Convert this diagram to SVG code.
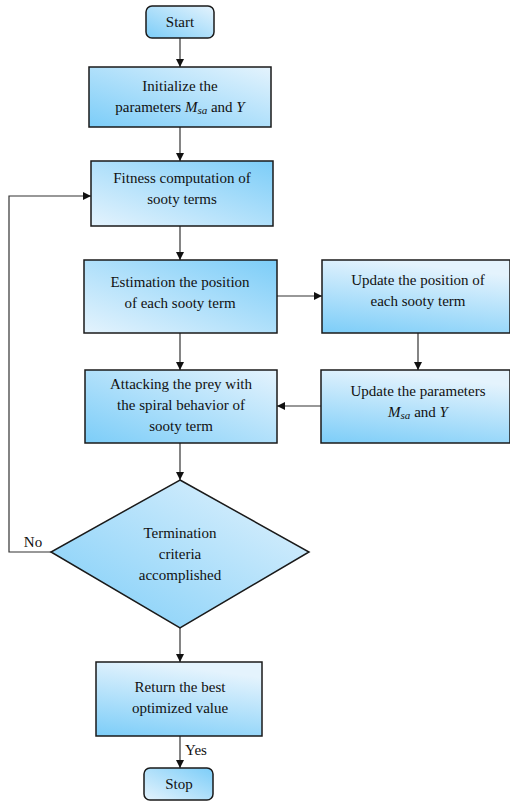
<svg xmlns="http://www.w3.org/2000/svg" width="510" height="805" viewBox="0 0 510 805">
<style>
.box{stroke:#1a1a1a;stroke-width:1.5}
.t{font-size:15px;fill:#111;text-anchor:middle}
.i{font-style:italic}
.c{stroke:#333;stroke-width:1.2;fill:none}
</style>
<defs>
<linearGradient id="gL" x1="0" y1="1" x2="1" y2="0"><stop offset="0" stop-color="#7ccdf8"/><stop offset="1" stop-color="#e4f3fd"/></linearGradient>
<linearGradient id="gR" x1="0" y1="1" x2="1" y2="0"><stop offset="0" stop-color="#e4f3fd"/><stop offset="1" stop-color="#7ccdf8"/></linearGradient>
<linearGradient id="gV" x1="0.3" y1="0" x2="0" y2="1"><stop offset="0" stop-color="#e4f3fd"/><stop offset="1" stop-color="#7ccdf8"/></linearGradient>
<marker id="ar" viewBox="0 0 10 10" refX="10" refY="5" markerWidth="8" markerHeight="8" markerUnits="userSpaceOnUse" orient="auto"><path d="M0,0 L10,5 L0,10 z" fill="#111"/></marker>
</defs>
<g font-family="'Liberation Serif', 'DejaVu Serif', serif">
<g id="connectors">
<line class="c" x1="180" y1="38" x2="180" y2="67" marker-end="url(#ar)"/>
<line class="c" x1="180" y1="127" x2="180" y2="161" marker-end="url(#ar)"/>
<line class="c" x1="180" y1="226" x2="180" y2="260" marker-end="url(#ar)"/>
<line class="c" x1="277" y1="296" x2="322" y2="296" marker-end="url(#ar)"/>
<line class="c" x1="418" y1="333" x2="418" y2="370" marker-end="url(#ar)"/>
<line class="c" x1="180" y1="333" x2="180" y2="370" marker-end="url(#ar)"/>
<line class="c" x1="321" y1="406" x2="277" y2="406" marker-end="url(#ar)"/>
<line class="c" x1="180" y1="443" x2="180" y2="480" marker-end="url(#ar)"/>
<polyline class="c" points="51,552 9,552 9,196 91,196" marker-end="url(#ar)"/>
<line class="c" x1="180" y1="628" x2="180" y2="662" marker-end="url(#ar)"/>
<line class="c" x1="180" y1="736" x2="180" y2="768" marker-end="url(#ar)"/>
<text class="t" x="33" y="547">No</text>
<text class="t" x="196" y="755">Yes</text>
</g>
<g id="start"><rect class="box" x="146" y="6" width="68" height="32" rx="6" fill="url(#gL)"/><text class="t" x="180" y="27">Start</text></g>
<g id="init"><rect class="box" x="89" y="67" width="182" height="60" fill="url(#gL)"/><text class="t" x="180" y="91">Initialize the</text><text class="t" x="180" y="112">parameters <tspan class="i">M</tspan><tspan class="i" font-size="11" dy="2">sa</tspan><tspan dy="-2"> and </tspan><tspan class="i">Y</tspan></text></g>
<g id="fitness"><rect class="box" x="91" y="161" width="182" height="65" fill="url(#gR)"/><text class="t" x="182" y="183">Fitness computation of</text><text class="t" x="182" y="204">sooty terms</text></g>
<g id="estimate"><rect class="box" x="84" y="260" width="193" height="73" fill="url(#gR)"/><text class="t" x="180" y="287">Estimation the position</text><text class="t" x="180" y="308">of each sooty term</text></g>
<g id="updpos"><rect class="box" x="322" y="260" width="188" height="73" fill="url(#gV)"/><text class="t" x="418" y="285">Update the position of</text><text class="t" x="418" y="306">each sooty term</text></g>
<g id="updparam"><rect class="box" x="321" y="370" width="189" height="73" fill="url(#gV)"/><text class="t" x="418" y="396">Update the parameters</text><text class="t" x="418" y="417"><tspan class="i">M</tspan><tspan class="i" font-size="11" dy="2">sa</tspan><tspan dy="-2"> and </tspan><tspan class="i">Y</tspan></text></g>
<g id="attack"><rect class="box" x="85" y="370" width="192" height="73" fill="url(#gL)"/><text class="t" x="181" y="389">Attacking the prey with</text><text class="t" x="181" y="410">the spiral behavior of</text><text class="t" x="181" y="431">sooty term</text></g>
<g id="decision"><polygon class="box" points="180,480 309,552 180,628 51,552" fill="url(#gL)"/><text class="t" x="180" y="538">Termination</text><text class="t" x="180" y="559">criteria</text><text class="t" x="180" y="580">accomplished</text></g>
<g id="return"><rect class="box" x="96" y="662" width="166" height="74" fill="url(#gV)"/><text class="t" x="180" y="692">Return the best</text><text class="t" x="180" y="713">optimized value</text></g>
<g id="stop"><rect class="box" x="144" y="768" width="69" height="32" rx="6" fill="url(#gR)"/><text class="t" x="179" y="789">Stop</text></g>
</g>
</svg>
